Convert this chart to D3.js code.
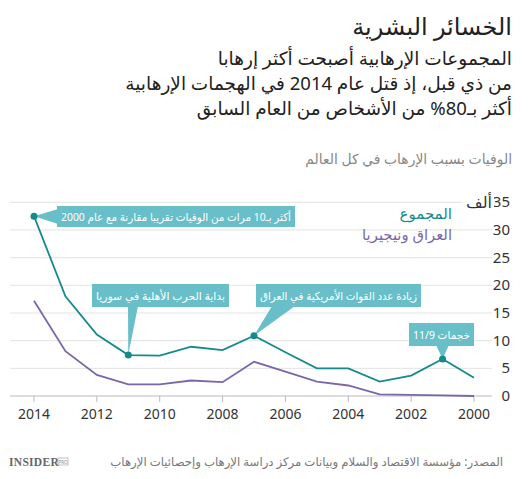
<!DOCTYPE html>
<html><head><meta charset="utf-8">
<script src="https://cdn.jsdelivr.net/npm/d3@7"></script>
<style>
html,body{margin:0;padding:0;background:#fff;}
svg{display:block;font-family:"Noto Sans","DejaVu Sans",sans-serif;}
</style></head>
<body><svg id="c" width="531" height="479"></svg>
<script>
// ---- data ----
const years = [2014,2013,2012,2011,2010,2009,2008,2007,2006,2005,2004,2003,2002,2001,2000];
const totalDeaths = [32.5,18.0,11.1,7.4,7.3,8.9,8.3,10.9,7.9,5.0,5.0,2.6,3.7,6.7,3.3];
const iraqNigeriaDeaths = [17.2,8.1,3.8,2.1,2.1,2.8,2.5,6.2,4.4,2.6,1.9,0.3,0.2,0.1,0.0];
const yTicks = [0,5,10,15,20,25,30,35];
const xTicks = [2014,2012,2010,2008,2006,2004,2002,2000];
const seriesNames = ["المجموع","العراق ونيجيريا"];
const titleText = "الخسائر البشرية";
const subtitleLines = ["المجموعات الإرهابية أصبحت أكثر إرهابا","من ذي قبل، إذ قتل عام 2014 في الهجمات الإرهابية","أكثر بـ80% من الأشخاص من العام السابق"];
const chartLabel = "الوفيات بسبب الإرهاب في كل العالم";
const unitLabel = "ألف";
const sourceText = "المصدر: مؤسسة الاقتصاد والسلام وبيانات مركز دراسة الإرهاب وإحصائيات الإرهاب";
const annotationYears = [2014,2011,2007,2001];
const annotationTexts = ["أكثر بـ10 مرات من الوفيات تقريبا مقارنة مع عام 2000","بداية الحرب الأهلية في سوريا","زيادة عدد القوات الأمريكية في العراق","خجمات 11/9"];

// ---- setup ----
const svg = d3.select("#c");
const TEAL = "#158a8c", PURPLE = "#7a66a8", BOX = "#68bfca";
const x = d3.scaleLinear().domain([2014,2000]).range([34,474]);
const y = d3.scaleLinear().domain([0,35]).range([396,202.3]);
const RIGHT = 512;

function rtlText(sel, xPos, yPos, size, color, txt){
  return sel.append("text").attr("x",xPos).attr("y",yPos).attr("direction","rtl").attr("text-anchor","start")
    .attr("font-size",size).attr("fill",color).text(txt);
}
function fitWidth(t, target){
  const w = t.node().getComputedTextLength();
  const fs = +t.attr("font-size");
  t.attr("font-size", fs*target/w);
}

// titles
rtlText(svg, RIGHT, 35, 24, "#222", titleText);
subtitleLines.forEach((s,i)=>{ rtlText(svg, RIGHT, 65+i*25, 18.5, "#222", s); });
fitWidth(rtlText(svg, RIGHT, 164, 15, "#888", chartLabel), 207);

// grid
const g = svg.append("g");
g.selectAll("line.grid").data(yTicks.filter(d=>d>0)).join("line").attr("class","grid")
  .attr("x1",10).attr("x2",492).attr("y1",d=>y(d)).attr("y2",d=>y(d))
  .attr("stroke","#e3e3e3").attr("stroke-width",1);
g.append("line").attr("x1",10).attr("x2",492).attr("y1",y(0)).attr("y2",y(0)).attr("stroke","#bbb").attr("stroke-width",1.2);
g.selectAll("line.xt").data(xTicks).join("line").attr("class","xt")
  .attr("x1",d=>x(d)).attr("x2",d=>x(d)).attr("y1",y(0)).attr("y2",y(0)+6).attr("stroke","#bbb");
g.selectAll("text.yl").data(yTicks).join("text").attr("class","yl")
  .attr("x",510).attr("y",d=>y(d)+5).attr("text-anchor","end").attr("font-size",15).attr("fill","#333").text(d=>d);
g.append("rect").attr("x",462).attr("y",y(35)-9).attr("width",32).attr("height",18).attr("fill","#fff");
rtlText(g, 492, y(35)+6, 16, "#333", unitLabel);
g.selectAll("text.xl").data(xTicks).join("text").attr("class","xl")
  .attr("x",d=>x(d)).attr("y",419).attr("text-anchor","middle").attr("font-size",14).attr("fill","#333").text(d=>d);

// lines
const line = d3.line().x((d,i)=>x(years[i])).y(d=>y(d));
g.append("path").datum(iraqNigeriaDeaths).attr("d",line).attr("fill","none").attr("stroke",PURPLE).attr("stroke-width",1.8);
g.append("path").datum(totalDeaths).attr("d",line).attr("fill","none").attr("stroke",TEAL).attr("stroke-width",1.8);

// legend
rtlText(g, 452, 219, 15, TEAL, seriesNames[0]);
fitWidth(rtlText(g, 452, 240, 15, PURPLE, seriesNames[1]), 90);

// annotations
const ann = annotationYears.map((yr,i)=>({yr, text:annotationTexts[i], v: totalDeaths[years.indexOf(yr)]}));
const layout = [
  {bx:57, by:206, bw:238, bh:21, ptr:"left"},
  {bx:92, by:284, bw:137, bh:23, ptr:"down", b0:128, b1:138},
  {bx:256, by:284, bw:165, bh:23, ptr:"down", b0:272, b1:295},
  {bx:409, by:323, bw:65, bh:23, ptr:"down", b0:436, b1:449}
];
ann.forEach((a,i)=>{
  const L = layout[i];
  const px = x(a.yr), py = y(a.v);
  let pts;
  if(L.ptr==="left") pts = [[L.bx+1,L.by+3],[L.bx+1,L.by+L.bh-3],[px,py]];
  else pts = [[L.b0,L.by+L.bh-1],[L.b1,L.by+L.bh-1],[px,py]];
  g.append("path").attr("d","M"+pts.map(p=>p.join(",")).join("L")+"Z").attr("fill",BOX);
  g.append("rect").attr("x",L.bx).attr("y",L.by).attr("width",L.bw).attr("height",L.bh).attr("fill",BOX);
  const fs = 12.5;
  const t = rtlText(g, L.bx+L.bw-4, L.by+L.bh/2+4.5, fs, "#fff", a.text);
  const w = t.node().getComputedTextLength();
  const target = L.bw-8;
  if(w>target){
    // squeeze slightly horizontally, shrink the rest
    const fs2 = Math.max(fs*target/w, fs*0.88);
    t.attr("font-size", fs2);
    t.attr("textLength", target).attr("lengthAdjust","spacingAndGlyphs");
  } else { t.attr("x", L.bx+L.bw/2 + w/2); }
  g.append("circle").attr("cx",px).attr("cy",py).attr("r",3.5).attr("fill",TEAL);
});

// footer
fitWidth(rtlText(svg, 503, 466, 13, "#777", sourceText), 393);
const logo = svg.append("g");
logo.append("text").attr("x",9).attr("y",466).attr("font-family","Liberation Serif").attr("font-weight","bold")
  .attr("font-size",11.5).attr("fill","#666").attr("letter-spacing",0.3).text("INSIDER");
logo.append("rect").attr("x",58).attr("y",458).attr("width",10).attr("height",7).attr("fill","none").attr("stroke","#999").attr("stroke-width",0.6);
logo.append("text").attr("x",63).attr("y",463.5).attr("text-anchor","middle").attr("font-size",4.5).attr("fill","#888").text("PRO");
</script></body></html>
